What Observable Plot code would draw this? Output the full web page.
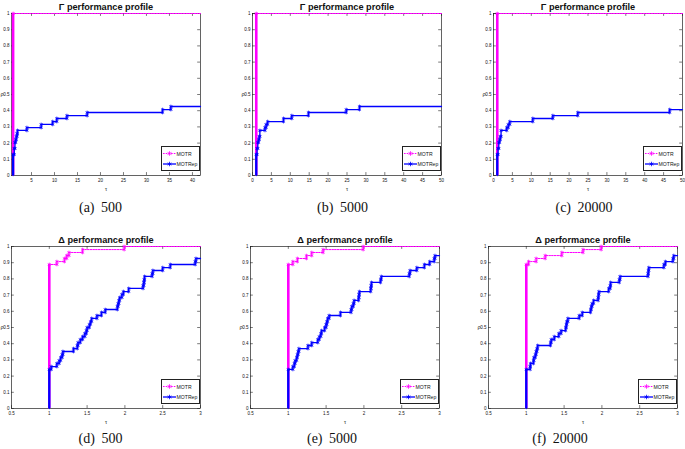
<!DOCTYPE html>
<html><head><meta charset="utf-8">
<script src="https://cdn.jsdelivr.net/npm/d3@7"></script>
<script src="https://cdn.jsdelivr.net/npm/@observablehq/plot@0.6"></script>
<style>
html,body{margin:0;padding:0;background:#fff;}
#root{position:relative;width:685px;height:449px;overflow:hidden;background:#fff;font-family:"Liberation Sans",Arial,sans-serif;}
.pan{position:absolute;}
.cap{position:absolute;font-family:"Liberation Serif","DejaVu Serif",serif;font-size:14px;line-height:14px;text-align:center;width:140px;word-spacing:3px;color:#111;white-space:nowrap;}
.leg{position:absolute;background:#fff;border:0.7px solid #222;box-sizing:border-box;}
</style></head><body><div id="root"></div>
<script>
// ---------- data ----------
const seriesNames = ["MOTR", "MOTRep"];
const captions = ["(a) 500", "(b) 5000", "(c) 20000", "(d) 500", "(e) 5000", "(f) 20000"];
const titles = ["Γ performance profile", "Δ performance profile"];
const yTicks = [0, 0.1, 0.2, 0.3, 0.4, 0.5, 0.6, 0.7, 0.8, 0.9, 1];
const xTicksA = [5, 10, 15, 20, 25, 30, 35, 40];
const xTicksBC = [0, 5, 10, 15, 20, 25, 30, 35, 40, 45, 50];
const xTicksDelta = [0.5, 1, 1.5, 2, 2.5, 3];
const xDomainA = [0.65, 41.75];
const xDomainBC = [0, 50];
const xDomainDelta = [0.5, 3];

// Gamma profiles
const motrTauA = [1], motrRhoA = [1];
const repTauA = [1, 1.25, 1.4, 1.55, 1.7, 1.85, 1.95, 4.0, 7.1, 9.6, 10.5, 12.7, 17.1, 33.5, 35.3];
const repRhoA = [0.130, 0.167, 0.204, 0.222, 0.241, 0.259, 0.278, 0.296, 0.315, 0.333, 0.352, 0.370, 0.389, 0.407, 0.426];
const motrTauB = [1], motrRhoB = [1];
const repTauB = [1, 1.2, 1.4, 1.6, 1.8, 1.95, 3.3, 3.6, 4.0, 8.2, 10.4, 14.8, 24.8, 28.3];
const repRhoB = [0.130, 0.167, 0.204, 0.222, 0.241, 0.278, 0.296, 0.315, 0.333, 0.352, 0.370, 0.389, 0.407, 0.426];
const motrTauC = [1], motrRhoC = [1];
const repTauC = [1, 1.2, 1.4, 1.6, 1.8, 2.0, 3.5, 3.9, 4.3, 10.4, 15.7, 22.3, 46.6];
const repRhoC = [0.130, 0.167, 0.204, 0.222, 0.241, 0.278, 0.296, 0.315, 0.333, 0.352, 0.370, 0.389, 0.407];

// Delta profiles
const motrTauD = [1, 1.10, 1.20, 1.23, 1.26, 1.44, 1.99];
const motrRhoD = [0.889, 0.907, 0.926, 0.944, 0.963, 0.981, 1.0];
const repTauD = [1.00, 1.025, 1.10, 1.13, 1.15, 1.17, 1.18, 1.32, 1.37, 1.38, 1.41, 1.44, 1.47, 1.49, 1.50, 1.53, 1.545, 1.56, 1.63, 1.69, 1.74, 1.90, 1.91, 1.92, 1.93, 1.96, 1.98, 2.05, 2.24, 2.25, 2.255, 2.26, 2.36, 2.37, 2.50, 2.60, 2.93, 2.94];
const repRhoD = [0.241, 0.259, 0.278, 0.296, 0.315, 0.333, 0.352, 0.370, 0.389, 0.407, 0.426, 0.444, 0.463, 0.481, 0.500, 0.519, 0.537, 0.556, 0.574, 0.593, 0.611, 0.630, 0.648, 0.667, 0.685, 0.704, 0.722, 0.741, 0.759, 0.778, 0.796, 0.815, 0.833, 0.852, 0.870, 0.889, 0.907, 0.926];
const motrTauE = [1, 1.06, 1.12, 1.24, 1.31, 1.46, 1.99];
const motrRhoE = [0.889, 0.907, 0.926, 0.944, 0.963, 0.981, 1.0];
const repTauE = [1.00, 1.06, 1.08, 1.09, 1.11, 1.12, 1.13, 1.14, 1.26, 1.31, 1.39, 1.41, 1.43, 1.44, 1.48, 1.50, 1.51, 1.52, 1.54, 1.69, 1.83, 1.84, 1.86, 1.87, 1.93, 1.935, 1.94, 2.09, 2.095, 2.10, 2.22, 2.23, 2.60, 2.61, 2.70, 2.80, 2.87, 2.93, 2.94];
const repRhoE = [0.241, 0.259, 0.278, 0.296, 0.315, 0.333, 0.352, 0.370, 0.389, 0.407, 0.426, 0.444, 0.463, 0.481, 0.500, 0.519, 0.537, 0.556, 0.574, 0.593, 0.611, 0.630, 0.648, 0.667, 0.685, 0.704, 0.722, 0.741, 0.759, 0.778, 0.796, 0.815, 0.833, 0.852, 0.870, 0.889, 0.907, 0.926, 0.944];
const motrTauF = [1, 1.03, 1.13, 1.25, 1.47, 1.75, 1.99];
const motrRhoF = [0.889, 0.907, 0.926, 0.944, 0.963, 0.981, 1.0];
const repTauF = [1.00, 1.05, 1.055, 1.095, 1.10, 1.12, 1.13, 1.14, 1.15, 1.32, 1.33, 1.37, 1.43, 1.46, 1.52, 1.53, 1.535, 1.55, 1.70, 1.74, 1.85, 1.86, 1.87, 1.89, 1.95, 1.955, 1.96, 2.09, 2.11, 2.115, 2.23, 2.24, 2.61, 2.615, 2.62, 2.82, 2.84, 2.94, 2.95];
const repRhoF = [0.241, 0.259, 0.278, 0.296, 0.315, 0.333, 0.352, 0.370, 0.389, 0.407, 0.426, 0.444, 0.463, 0.481, 0.500, 0.519, 0.537, 0.556, 0.574, 0.593, 0.611, 0.630, 0.648, 0.667, 0.685, 0.704, 0.722, 0.741, 0.759, 0.778, 0.796, 0.815, 0.833, 0.852, 0.870, 0.889, 0.907, 0.926, 0.944];

// ---------- layout ----------
const MAG = "#ff00ff", BLU = "#0000ff";
const panels = [
  {L: 11,  T: 13,  title: titles[0], cap: captions[0], capX: 100.5, xd: xDomainA,  xt: xTicksA,  m: [motrTauA, motrRhoA], r: [repTauA, repRhoA]},
  {L: 252, T: 13,  title: titles[0], cap: captions[1], capX: 342.5, xd: xDomainBC, xt: xTicksBC, m: [motrTauB, motrRhoB], r: [repTauB, repRhoB]},
  {L: 493, T: 13,  title: titles[0], cap: captions[2], capX: 584,   xd: xDomainBC, xt: xTicksBC, m: [motrTauC, motrRhoC], r: [repTauC, repRhoC]},
  {L: 11,  T: 246, title: titles[1], cap: captions[3], capX: 100.5, xd: xDomainDelta, xt: xTicksDelta, m: [motrTauD, motrRhoD], r: [repTauD, repRhoD]},
  {L: 250, T: 246, title: titles[1], cap: captions[4], capX: 332,   xd: xDomainDelta, xt: xTicksDelta, m: [motrTauE, motrRhoE], r: [repTauE, repRhoE]},
  {L: 488, T: 246, title: titles[1], cap: captions[5], capX: 560,   xd: xDomainDelta, xt: xTicksDelta, m: [motrTauF, motrRhoF], r: [repTauF, repRhoF]}
];
const W = 189, H = 162, mL = 14, mR = 3, mT = 16, mB = 24;
const root = d3.select("#root");

function stepPts(tau, rho, xmax) {
  const pts = [{t: tau[0], r: 0}];
  tau.forEach((t, i) => pts.push({t, r: rho[i]}));
  pts.push({t: xmax, r: rho[rho.length - 1]});
  return pts;
}
function markPts(tau, rho) {
  const out = [];
  tau.forEach((t, i) => { if (i > 0) out.push({t, r: rho[i - 1]}); out.push({t, r: rho[i]}); });
  return out;
}

panels.forEach((p, k) => {
  const [x0, x1] = p.xd;
  const span = x1 - x0;
  const seriesMarks = (tau, rho, color, dash, vw) => [
    Plot.ruleX([{t: tau[0], r: rho[0]}], {x: "t", y1: 0, y2: "r", stroke: color, strokeWidth: vw}),
    Plot.line(stepPts(tau, rho, x1), {x: "t", y: "r", curve: "step-after", stroke: color, strokeWidth: dash ? 1 : 1.3, strokeDasharray: dash || null}),
    Plot.dot(markPts(tau, rho), {x: "t", y: "r", symbol: "asterisk", r: 1.7, stroke: color, strokeWidth: 0.8})
  ];
  const chart = Plot.plot({
    width: W + mL + mR, height: H + mT + mB,
    marginLeft: mL, marginRight: mR, marginTop: mT, marginBottom: mB,
    x: {domain: p.xd}, y: {domain: [0, 1]},
    style: {fontFamily: "Liberation Sans, Arial, sans-serif", background: "transparent", overflow: "visible", color: "#111"},
    marks: [
      Plot.ruleX(p.xt, {x: d => d, y1: 0, y2: 0.018, stroke: "#222", strokeWidth: 0.6}),
      Plot.ruleX(p.xt, {x: d => d, y1: 0.982, y2: 1, stroke: "#222", strokeWidth: 0.6}),
      Plot.ruleY(yTicks, {y: d => d, x1: x0, x2: x0 + span * 0.015, stroke: "#222", strokeWidth: 0.6}),
      Plot.ruleY(yTicks, {y: d => d, x1: x1 - span * 0.015, x2: x1, stroke: "#222", strokeWidth: 0.6}),
      Plot.axisX(p.xt, {tickSize: 0, tickPadding: 3, fontSize: 4.5, label: null, tickFormat: d => String(d)}),
      Plot.axisY(yTicks, {tickSize: 0, tickPadding: 2, fontSize: 4.5, label: null, tickFormat: d => String(d)}),
      Plot.frame({stroke: "#222", strokeWidth: 0.7}),
      ...seriesMarks(p.m[0], p.m[1], MAG, "1.6 1.1", 2.6),
      ...seriesMarks(p.r[0], p.r[1], BLU, null, 2.2),
      Plot.text([p.title], {frameAnchor: "top", dy: -4, lineAnchor: "bottom", fontSize: 9.2, fontWeight: "bold", fill: "#111"}),
      Plot.text(["τ"], {frameAnchor: "bottom", dy: 15, fontSize: 5.5, fill: "#222"}),
      Plot.text(["ρ"], {frameAnchor: "left", dx: -11, fontSize: 5.5, fill: "#222"})
    ]
  });
  root.append("div").attr("class", "pan")
    .style("left", (p.L - mL) + "px").style("top", (p.T - mT) + "px")
    .node().appendChild(chart);

  // legend
  const lw = 39, lh = 25;
  const leg = root.append("div").attr("class", "leg")
    .style("left", (p.L + W - lw) + "px").style("top", (p.T + H - 4 - lh) + "px")
    .style("width", lw + "px").style("height", lh + "px");
  const svg = leg.append("svg").attr("width", lw - 1).attr("height", lh - 1).style("display", "block");
  const rows = [{name: seriesNames[0], c: MAG, dash: "1.6 1.1"}, {name: seriesNames[1], c: BLU, dash: null}];
  rows.forEach((row, i) => {
    const y = 6.5 + i * 10.5;
    svg.append("line").attr("x1", 1).attr("x2", 14).attr("y1", y).attr("y2", y)
      .attr("stroke", row.c).attr("stroke-width", row.dash ? 1 : 1.3).attr("stroke-dasharray", row.dash);
    svg.append("path").attr("d", d3.symbol(d3.symbolAsterisk, 14)()).attr("transform", `translate(7.5,${y})`)
      .attr("stroke", row.c).attr("stroke-width", 0.8).attr("fill", "none");
    svg.append("text").attr("x", 14.6).attr("y", y + 2).attr("font-size", 5.1).attr("fill", "#111")
      .attr("font-family", "Liberation Sans, Arial, sans-serif").text(row.name);
  });

  // caption
  root.append("div").attr("class", "cap")
    .style("left", (p.capX - 70) + "px").style("top", (k < 3 ? 201 : 432) + "px")
    .text(p.cap);
});
</script>
</body></html>
